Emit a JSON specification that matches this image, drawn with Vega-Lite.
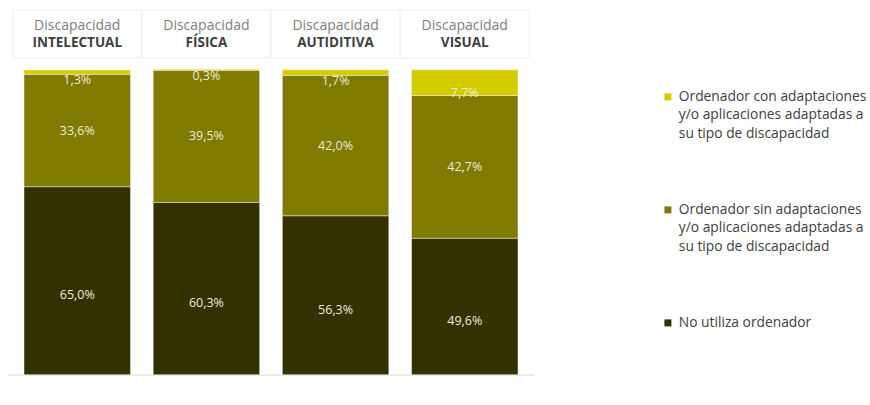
{
  "$schema": "https://vega.github.io/schema/vega-lite/v6.json",
  "autosize": {"type": "none"},
  "padding": {"left": 8, "top": 5, "right": 336, "bottom": 30},
  "width": 526,
  "height": 370,
  "background": "white",
  "config": {"view": {"stroke": null}, "font": "Open Sans", "style": {"guide-label": {"lineHeight": 18.5}}},
  "datasets": {
    "main": [
      {"cat": "INTELECTUAL", "tipo": "No utiliza ordenador", "valor": 65.0},
      {"cat": "INTELECTUAL", "tipo": "Ordenador sin adaptaciones|y/o aplicaciones adaptadas a|su tipo de discapacidad", "valor": 33.6},
      {"cat": "INTELECTUAL", "tipo": "Ordenador con adaptaciones|y/o aplicaciones adaptadas a|su tipo de discapacidad", "valor": 1.3},
      {"cat": "FÍSICA", "tipo": "No utiliza ordenador", "valor": 60.3},
      {"cat": "FÍSICA", "tipo": "Ordenador sin adaptaciones|y/o aplicaciones adaptadas a|su tipo de discapacidad", "valor": 39.5},
      {"cat": "FÍSICA", "tipo": "Ordenador con adaptaciones|y/o aplicaciones adaptadas a|su tipo de discapacidad", "valor": 0.3},
      {"cat": "AUTIDITIVA", "tipo": "No utiliza ordenador", "valor": 56.3},
      {"cat": "AUTIDITIVA", "tipo": "Ordenador sin adaptaciones|y/o aplicaciones adaptadas a|su tipo de discapacidad", "valor": 42.0},
      {"cat": "AUTIDITIVA", "tipo": "Ordenador con adaptaciones|y/o aplicaciones adaptadas a|su tipo de discapacidad", "valor": 1.7},
      {"cat": "VISUAL", "tipo": "No utiliza ordenador", "valor": 49.6},
      {"cat": "VISUAL", "tipo": "Ordenador sin adaptaciones|y/o aplicaciones adaptadas a|su tipo de discapacidad", "valor": 42.7},
      {"cat": "VISUAL", "tipo": "Ordenador con adaptaciones|y/o aplicaciones adaptadas a|su tipo de discapacidad", "valor": 7.7}
    ],
    "heads": [
      {"cat": "INTELECTUAL", "top": "Discapacidad"},
      {"cat": "FÍSICA", "top": "Discapacidad"},
      {"cat": "AUTIDITIVA", "top": "Discapacidad"},
      {"cat": "VISUAL", "top": "Discapacidad"}
    ]
  },
  "encoding": {
    "x": {
      "field": "cat",
      "type": "nominal",
      "sort": ["INTELECTUAL", "FÍSICA", "AUTIDITIVA", "VISUAL"],
      "scale": {"paddingInner": 0.176, "paddingOuter": 0.124},
      "axis": null
    }
  },
  "layer": [
    {
      "data": {"name": "heads"},
      "mark": {"type": "bar", "fill": "white", "stroke": "#f0f0f0", "strokeWidth": 1, "width": {"band": 1.21}},
      "encoding": {
        "y": {"datum": 103.5, "type": "quantitative", "scale": {"domain": [8.67, 119.35], "nice": false, "zero": false, "clamp": true}, "axis": null},
        "y2": {"datum": 117.85}
      }
    },
    {
      "data": {"name": "heads"},
      "mark": {"type": "text", "fontSize": 14, "color": "#808080", "baseline": "middle"},
      "encoding": {
        "y": {"datum": 113.1, "type": "quantitative"},
        "text": {"field": "top"}
      }
    },
    {
      "data": {"name": "heads"},
      "mark": {"type": "text", "fontSize": 13.5, "fontWeight": "bold", "color": "#404040", "baseline": "middle"},
      "encoding": {
        "y": {"datum": 108.0, "type": "quantitative"},
        "text": {"field": "cat"}
      }
    },
    {
      "data": {"name": "main"},
      "transform": [
        {"calculate": "indexof(['No utiliza ordenador','Ordenador sin adaptaciones|y/o aplicaciones adaptadas a|su tipo de discapacidad','Ordenador con adaptaciones|y/o aplicaciones adaptadas a|su tipo de discapacidad'], datum.tipo)", "as": "k"},
        {"stack": "valor", "groupby": ["cat"], "sort": [{"field": "k", "order": "ascending"}], "as": ["y0", "y1"]},
        {"calculate": "datum.valor < 3 ? datum.y0 - 1.8 : (datum.valor < 10 ? datum.y0 + 0.8 : (datum.y0 + datum.y1) / 2)", "as": "ym"},
        {"calculate": "replace(format(datum.valor, '.1f'), '.', ',') + '%'", "as": "lab"}
      ],
      "layer": [
        {
          "mark": {"type": "bar", "stroke": "#ffffff", "strokeWidth": 0.6, "strokeOpacity": 0.7},
          "encoding": {
            "y": {"field": "y0", "type": "quantitative"},
            "y2": {"field": "y1"},
            "color": {
              "field": "tipo",
              "type": "nominal",
              "scale": {
                "domain": [
                  "Ordenador con adaptaciones|y/o aplicaciones adaptadas a|su tipo de discapacidad",
                  "Ordenador sin adaptaciones|y/o aplicaciones adaptadas a|su tipo de discapacidad",
                  "No utiliza ordenador"
                ],
                "range": ["#d4cc00", "#807a00", "#333100"]
              },
              "legend": {
                "title": null,
                "orient": "none",
                "legendX": 653,
                "legendY": 85,
                "padding": 0,
                "symbolType": "square",
                "symbolSize": 49,
                "symbolStrokeWidth": 0,
                "labelExpr": "split(datum.label, '|')",
                "labelFont": "Open Sans",
                "labelFontSize": 13.8,
                "labelColor": "#404040",
                "labelLimit": 300,
                "labelOffset": 4,
                "labelBaseline": "middle",
                "rowPadding": 61
              }
            }
          }
        },
        {
          "mark": {"type": "text", "fontSize": 12.5, "color": "#ececd8", "baseline": "middle"},
          "encoding": {
            "y": {"field": "ym", "type": "quantitative"},
            "text": {"field": "lab"}
          }
        }
      ]
    },
    {
      "data": {"values": [{"z": 0}]},
      "mark": {"type": "rule", "color": "#d9d9d9", "strokeWidth": 1},
      "encoding": {"y": {"field": "z", "type": "quantitative"}, "x": null}
    }
  ]
}
